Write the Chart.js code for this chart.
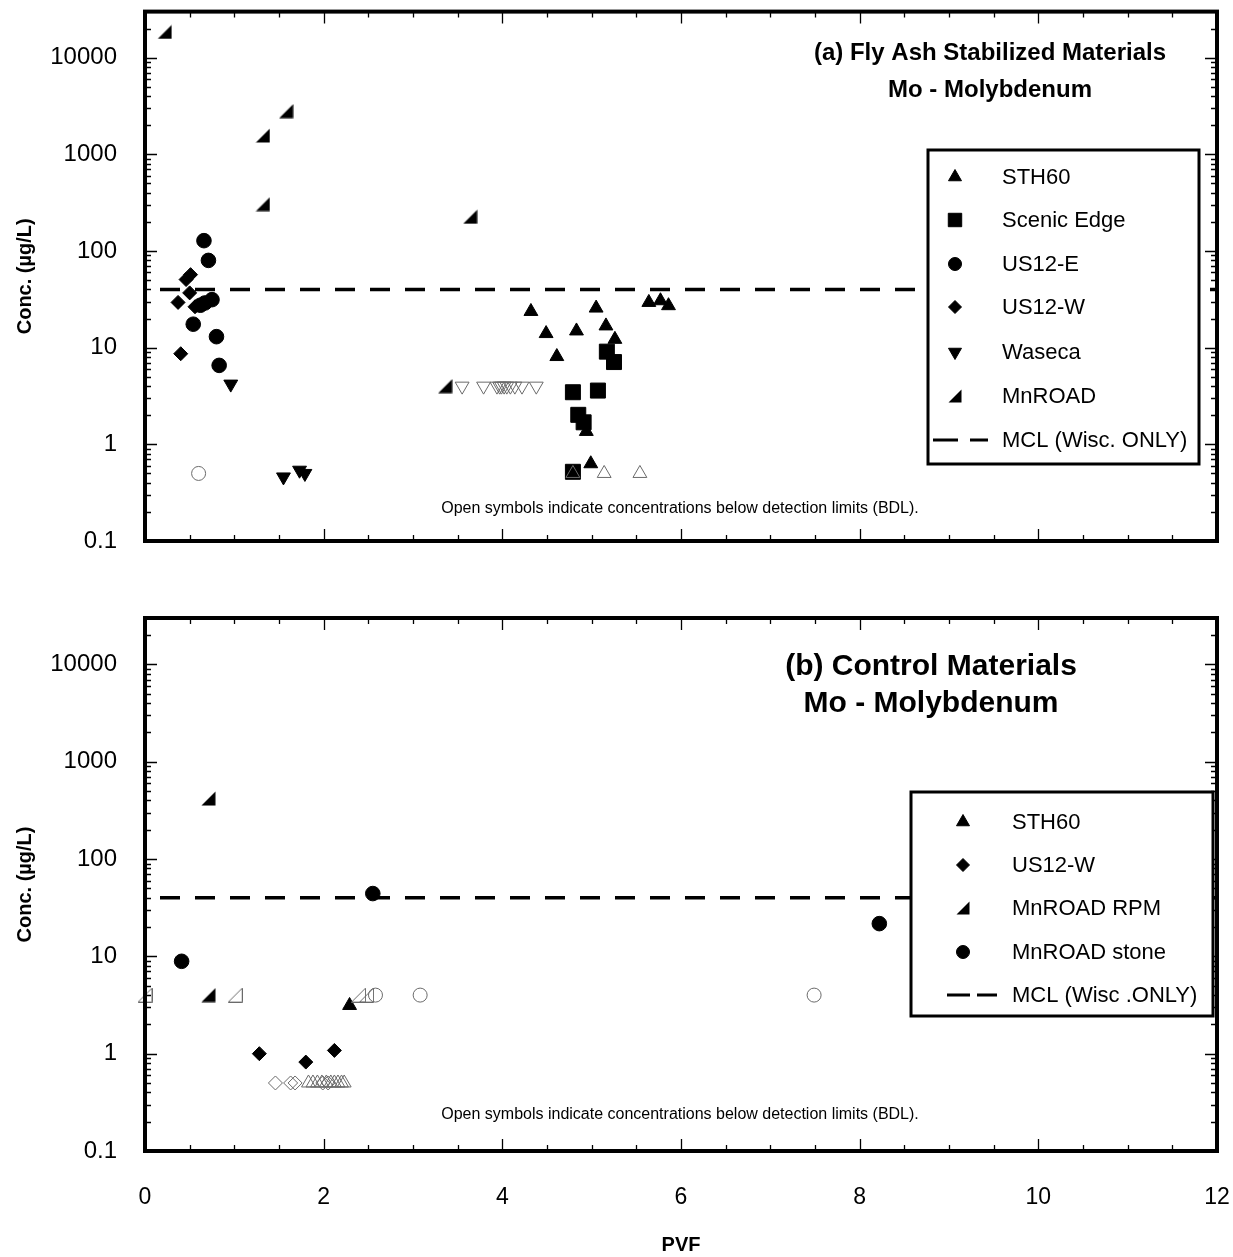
<!DOCTYPE html>
<html>
<head>
<meta charset="utf-8">
<script src="https://cdn.jsdelivr.net/npm/chart.js@4.4.1/dist/chart.umd.min.js"></script>
<style>
  html, body { margin: 0; padding: 0; background: #fff; }
  #wrap { position: relative; width: 1233px; height: 1257px; }
  canvas { position: absolute; left: 0; }
  #topChart { top: 0; }
  #botChart { top: 580px; }
</style>
</head>
<body>
<div id="wrap">
  <canvas id="topChart" width="1233" height="580"></canvas>
  <canvas id="botChart" width="1233" height="677"></canvas>
</div>
<script>
// axis ticks
var xTickLabels = [0, 2, 4, 6, 8, 10, 12];
var yTickLabels = [0.1, 1, 10, 100, 1000, 10000];
var mclValue = 40;

// (a) fly ash stabilized materials
var aSth60X = [4.32, 4.49, 4.83, 4.61, 5.05, 5.16, 5.26, 5.64, 5.77, 5.86, 4.94, 4.99];
var aSth60Y = [23.7, 14.0, 14.9, 8.1, 25.7, 16.8, 12.2, 29.4, 30.6, 27.2, 1.36, 0.63];
var aSth60BdlX = [4.79, 5.14, 5.54];
var aSth60BdlY = [0.5, 0.5, 0.5];
var aScenicX = [5.17, 5.25, 4.79, 5.07, 4.85, 4.91, 4.79];
var aScenicY = [9.1, 7.1, 3.46, 3.6, 2.02, 1.69, 0.52];
var aUs12eX = [0.66, 0.71, 0.62, 0.67, 0.75, 0.54, 0.80, 0.83];
var aUs12eY = [128, 80, 27.5, 29, 31.4, 17.5, 13.0, 6.56];
var aUs12eBdlX = [0.60];
var aUs12eBdlY = [0.5];
var aUs12wX = [0.46, 0.51, 0.50, 0.37, 0.56, 0.40];
var aUs12wY = [50.7, 57, 36.9, 29.4, 26.5, 8.66];
var aWasecaX = [0.96, 1.55, 1.73, 1.79];
var aWasecaY = [4.2, 0.46, 0.54, 0.50];
var aWasecaBdlX = [3.55, 3.79, 3.94, 3.97, 3.99, 4.02, 4.05, 4.09, 4.14, 4.22, 4.38];
var aWasecaBdlY = [4, 4, 4, 4, 4, 4, 4, 4, 4, 4, 4];
var aMnroadX = [0.22, 1.58, 1.32, 1.32, 3.64, 3.36];
var aMnroadY = [18500, 2800, 1570, 306, 226, 4];

// (b) control materials
var bSth60X = [2.29];
var bSth60Y = [3.13];
var bSth60BdlX = [1.83, 1.88, 1.93, 1.98, 2.03, 2.08, 2.12, 2.16, 2.20, 2.23];
var bSth60BdlY = [0.5, 0.5, 0.5, 0.5, 0.5, 0.5, 0.5, 0.5, 0.5, 0.5];
var bUs12wX = [1.28, 1.80, 2.12];
var bUs12wY = [1.0, 0.82, 1.08];
var bUs12wBdlX = [1.46, 1.63, 1.68, 1.99, 2.05];
var bUs12wBdlY = [0.5, 0.5, 0.5, 0.5, 0.5];
var bRpmX = [0.71, 0.71];
var bRpmY = [419, 4];
var bRpmBdlX = [0.0, 1.01, 2.39, 2.48];
var bRpmBdlY = [4, 4, 4, 4];
var bStoneX = [0.41, 2.55, 8.22];
var bStoneY = [8.9, 44.2, 21.7];
var bStoneBdlX = [2.58, 3.08, 7.49];
var bStoneBdlY = [4, 4, 4];

var FONT = 'Arial, "Liberation Sans", Helvetica, sans-serif';
var OPEN = '#6a6a6a';

function pts(xs, ys) {
  return xs.map(function (x, i) { return { x: x, y: ys[i] }; });
}

// right-angle "MnROAD" marker
function halfTri(size, filled) {
  var c = document.createElement('canvas');
  c.width = size; c.height = size;
  var g = c.getContext('2d');
  g.beginPath();
  g.moveTo(0.5, size - 0.5);
  g.lineTo(size - 0.5, size - 0.5);
  g.lineTo(size - 0.5, 0.5);
  g.closePath();
  if (filled) { g.fillStyle = '#000'; g.fill(); }
  else { g.strokeStyle = OPEN; g.lineWidth = 1; g.stroke(); }
  return c;
}
var triFilled = halfTri(15, true), triOpen = halfTri(15, false), triLegend = halfTri(14, true);

function filled(xs, ys, style, r, rot) {
  return {
    data: pts(xs, ys), pointStyle: style, pointRadius: r, pointRotation: rot || 0,
    backgroundColor: '#000', borderColor: '#000', borderWidth: 1, clip: false
  };
}
function open(xs, ys, style, r, rot) {
  return {
    data: pts(xs, ys), pointStyle: style, pointRadius: r, pointRotation: rot || 0,
    backgroundColor: 'rgba(0,0,0,0)', borderColor: OPEN, borderWidth: 1, clip: false
  };
}
function mclLine() {
  return {
    data: [{ x: 0, y: mclValue }, { x: 12, y: mclValue }], showLine: true, pointRadius: 0,
    borderColor: '#000', borderWidth: 3.5, borderDash: [20, 15], borderDashOffset: 20, clip: false
  };
}

var decorPlugin = {
  id: 'panelDecor',
  afterDraw: function (chart, args, o) {
    var ctx = chart.ctx, a = chart.chartArea, xs = chart.scales.x, ys = chart.scales.y;
    ctx.save();
    // inward ticks on all four sides
    ctx.strokeStyle = '#000';
    ctx.lineWidth = 1.3;
    ctx.beginPath();
    for (var d = -1; d <= 4; d++) {
      for (var m = 1; m <= 9; m++) {
        var v = m * Math.pow(10, d);
        if (v >= ys.max * 0.999) continue;
        var py = Math.round(ys.getPixelForValue(v)) + 0.5;
        var len = m === 1 ? 12 : 6;
        ctx.moveTo(a.left, py); ctx.lineTo(a.left + len, py);
        ctx.moveTo(a.right, py); ctx.lineTo(a.right - len, py);
      }
    }
    for (var t = 1; t < 24; t++) {
      var px = Math.round(xs.getPixelForValue(t / 2)) + 0.5;
      var l2 = t % 4 === 0 ? 12 : 6;
      ctx.moveTo(px, a.top); ctx.lineTo(px, a.top + l2);
      ctx.moveTo(px, a.bottom); ctx.lineTo(px, a.bottom - l2);
    }
    ctx.stroke();
    // frame
    ctx.lineWidth = 4;
    ctx.strokeRect(a.left, a.top, a.right - a.left, a.bottom - a.top);

    // panel title
    ctx.fillStyle = '#000';
    ctx.textAlign = 'center';
    ctx.textBaseline = 'middle';
    ctx.font = 'bold ' + o.titleSize + 'px ' + FONT;
    o.title.forEach(function (s, i) { ctx.fillText(s, o.titleX, o.titleY[i]); });
    // BDL note
    ctx.font = '16px ' + FONT;
    ctx.fillText(o.note, o.noteX, o.noteY);

    // legend box
    var L = o.legend, b = L.box;
    ctx.fillStyle = '#fff';
    ctx.fillRect(b[0], b[1], b[2] - b[0], b[3] - b[1]);
    ctx.lineWidth = 3;
    ctx.strokeStyle = '#000';
    ctx.strokeRect(b[0], b[1], b[2] - b[0], b[3] - b[1]);
    ctx.font = '22px ' + FONT;
    ctx.textAlign = 'left';
    L.items.forEach(function (it, i) {
      var y = L.rows[i];
      ctx.fillStyle = '#000';
      ctx.strokeStyle = '#000';
      if (it.dash) {
        ctx.lineWidth = 3;
        ctx.beginPath();
        L.dashSegs.forEach(function (sg) { ctx.moveTo(sg[0], y); ctx.lineTo(sg[1], y); });
        ctx.stroke();
      } else {
        ctx.lineWidth = 1;
        Chart.helpers.drawPoint(ctx, { pointStyle: it.style, radius: it.r, rotation: it.rot || 0, borderWidth: 1 }, L.symX, y);
      }
      ctx.fillStyle = '#000';
      ctx.fillText(it.label, L.textX, y + 1);
    });
    ctx.restore();
  }
};

function noPad(s) {
  s.paddingTop = 0; s.paddingBottom = 0; s.paddingLeft = 0; s.paddingRight = 0;
}

function makeConfig(datasets, decor, showX, xAxisH, padTop) {
  return {
    type: 'scatter',
    data: { datasets: datasets },
    options: {
      responsive: false,
      animation: false,
      events: [],
      layout: { padding: { top: padTop, right: 16, left: 0, bottom: 0 } },
      plugins: { legend: { display: false }, tooltip: { enabled: false }, panelDecor: decor },
      scales: {
        x: {
          type: 'linear', min: 0, max: 12,
          grid: { display: false }, border: { display: false },
          afterBuildTicks: function (s) { s.ticks = xTickLabels.map(function (v) { return { value: v }; }); },
          ticks: { display: showX, autoSkip: false, maxRotation: 0, padding: 25, color: '#000', font: { size: 23, family: FONT } },
          title: { display: showX, text: 'PVF', color: '#000', font: { size: 20, weight: 'bold', family: FONT, lineHeight: 1.2 }, padding: { top: 0, bottom: 0 } },
          afterFit: function (s) { s.height = xAxisH; noPad(s); }
        },
        y: {
          type: 'logarithmic', min: 0.1, max: 30000,
          grid: { display: false }, border: { display: false },
          afterBuildTicks: function (s) { s.ticks = yTickLabels.map(function (v) { return { value: v }; }); },
          ticks: { autoSkip: false, padding: 20, color: '#000', font: { size: 24, family: FONT },
                   callback: function (v) { return String(v); } },
          title: { display: true, text: 'Conc. (µg/L)', color: '#000', font: { size: 20, weight: 'bold', family: FONT, lineHeight: 1.2 }, padding: { top: 13, bottom: 0 } },
          afterFit: function (s) { s.width = 145; noPad(s); }
        }
      }
    },
    plugins: [decorPlugin]
  };
}

var topSets = [
  mclLine(),
  open(aWasecaBdlX, aWasecaBdlY, 'triangle', 8, 180),
  open(aSth60BdlX, aSth60BdlY, 'triangle', 8),
  open(aUs12eBdlX, aUs12eBdlY, 'circle', 7),
  filled(aMnroadX, aMnroadY, triFilled, 8),
  filled(aWasecaX, aWasecaY, 'triangle', 8, 180),
  filled(aUs12wX, aUs12wY, 'rectRot', 7),
  filled(aUs12eX, aUs12eY, 'circle', 7.3),
  filled(aScenicX, aScenicY, 'rect', 10.6),
  filled(aSth60X, aSth60Y, 'triangle', 8)
];

var topDecor = {
  title: ['(a) Fly Ash Stabilized Materials', 'Mo - Molybdenum'], titleSize: 24, titleX: 990, titleY: [53, 90],
  note: 'Open symbols indicate concentrations below detection limits (BDL).', noteX: 680, noteY: 509,
  legend: {
    box: [928, 150, 1199, 464], symX: 955, textX: 1002,
    rows: [177, 220, 264, 307, 352, 396, 440],
    dashSegs: [[933, 958], [970, 988]],
    items: [
      { label: 'STH60', style: 'triangle', r: 7.5 },
      { label: 'Scenic Edge', style: 'rect', r: 9.5 },
      { label: 'US12-E', style: 'circle', r: 6.5 },
      { label: 'US12-W', style: 'rectRot', r: 6.5 },
      { label: 'Waseca', style: 'triangle', r: 7.5, rot: 180 },
      { label: 'MnROAD', style: triLegend, r: 7 },
      { label: 'MCL (Wisc. ONLY)', dash: true }
    ]
  }
};

var botSets = [
  mclLine(),
  open(bSth60BdlX, bSth60BdlY, 'triangle', 8),
  open(bUs12wBdlX, bUs12wBdlY, 'rectRot', 7),
  open(bRpmBdlX, bRpmBdlY, triOpen, 8),
  open(bStoneBdlX, bStoneBdlY, 'circle', 7),
  filled(bRpmX, bRpmY, triFilled, 8),
  filled(bUs12wX, bUs12wY, 'rectRot', 7),
  filled(bStoneX, bStoneY, 'circle', 7.3),
  filled(bSth60X, bSth60Y, 'triangle', 8)
];

var botDecor = {
  title: ['(b) Control Materials', 'Mo - Molybdenum'], titleSize: 30, titleX: 931, titleY: [87, 124],
  note: 'Open symbols indicate concentrations below detection limits (BDL).', noteX: 680, noteY: 535,
  legend: {
    box: [911, 212, 1213, 436], symX: 963, textX: 1012,
    rows: [242, 285, 328, 372, 415],
    dashSegs: [[947, 970], [977, 997]],
    items: [
      { label: 'STH60', style: 'triangle', r: 7.5 },
      { label: 'US12-W', style: 'rectRot', r: 6.5 },
      { label: 'MnROAD RPM', style: triLegend, r: 7 },
      { label: 'MnROAD stone', style: 'circle', r: 6.5 },
      { label: 'MCL (Wisc .ONLY)', dash: true }
    ]
  }
};

new Chart(document.getElementById('topChart'), makeConfig(topSets, topDecor, false, 39, 10));
new Chart(document.getElementById('botChart'), makeConfig(botSets, botDecor, true, 106, 38));
</script>
</body>
</html>
